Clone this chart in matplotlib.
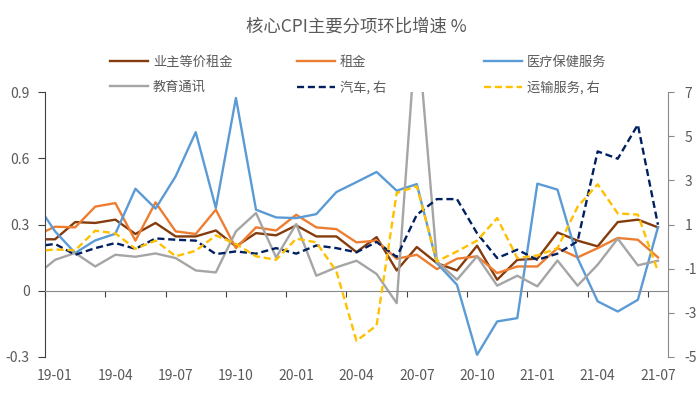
import matplotlib
matplotlib.use('Agg')
import matplotlib.pyplot as plt
import pandas as pd

plt.rcParams['font.family'] = ['Noto Sans CJK SC', 'DejaVu Sans']

# monthly data, 2018-12 .. 2021-07 (the first month is clipped by the axis)
months = pd.period_range('2018-12', '2021-07', freq='M').strftime('%y-%m').tolist()

oer = [0.233, 0.233, 0.311, 0.307, 0.322, 0.257, 0.307, 0.246, 0.246, 0.273, 0.201,
       0.261, 0.251, 0.296, 0.246, 0.246, 0.175, 0.243, 0.092, 0.198, 0.125, 0.092,
       0.204, 0.050, 0.140, 0.145, 0.264, 0.227, 0.201, 0.311, 0.322, 0.287]
rent = [0.248, 0.290, 0.287, 0.381, 0.397, 0.227, 0.400, 0.269, 0.257, 0.367, 0.193,
        0.287, 0.273, 0.344, 0.287, 0.279, 0.219, 0.227, 0.145, 0.163, 0.098, 0.145,
        0.156, 0.080, 0.110, 0.110, 0.193, 0.151, 0.193, 0.239, 0.231, 0.151]
medical = [0.405, 0.269, 0.171, 0.228, 0.258, 0.462, 0.372, 0.518, 0.718, 0.375, 0.873,
           0.367, 0.332, 0.329, 0.347, 0.447, 0.492, 0.538, 0.453, 0.483, 0.125, 0.027,
           -0.290, -0.139, -0.124, 0.485, 0.458, 0.148, -0.048, -0.094, -0.041, 0.287]
education = [0.066, 0.140, 0.171, 0.110, 0.163, 0.154, 0.169, 0.148, 0.092, 0.083, 0.269,
             0.352, 0.151, 0.302, 0.068, 0.106, 0.136, 0.076, -0.056, 1.22, 0.133, 0.050,
             0.156, 0.023, 0.068, 0.020, 0.137, 0.023, 0.118, 0.236, 0.115, 0.136]
# right axis
cars = [0.0, 0.12, -0.37, -0.07, 0.16, -0.10, 0.37, 0.31, 0.27, -0.34, -0.22,
        -0.32, -0.07, -0.32, 0.05, -0.07, -0.26, 0.21, -0.47, 1.44, 2.15, 2.15,
        0.60, -0.52, -0.14, -0.60, -0.32, 0.24, 4.31, 3.98, 5.52, 0.99]
transport = [-0.22, -0.13, -0.17, 0.72, 0.60, -0.10, 0.27, -0.44, -0.19, 0.51, 0.12,
             -0.44, -0.60, 0.36, 0.19, -1.12, -4.27, -3.57, 2.43, 2.73, -0.67, -0.22,
             0.27, 1.29, -0.52, -0.40, -0.07, 1.80, 2.82, 1.50, 1.45, -1.12]

tick_labels = ['19-01', '19-04', '19-07', '19-10', '20-01', '20-04',
               '20-07', '20-10', '21-01', '21-04', '21-07']
left_ticks = [0.9, 0.6, 0.3, 0, -0.3]
left_labels = ['0.9', '0.6', '0.3', '0', '-0.3']
right_ticks = [7, 5, 3, 1, -1, -3, -5]
right_labels = ['7', '5', '3', '1', '-1', '-3', '-5']

x = list(range(len(months)))
label_pos = [months.index(t) for t in tick_labels]
tick_pos = [p - 0.5 for p in label_pos]

text_c = '#595959'
fig = plt.figure(figsize=(6.98, 3.98), dpi=100)
ax = fig.add_axes([45 / 698, 1 - 357 / 398, 623 / 698, 265 / 398])
ax2 = ax.twinx()

lw = 1.7
l1, = ax.plot(x, oer, color='#843C0C', lw=lw, label='业主等价租金')
l2, = ax.plot(x, rent, color='#ED7D31', lw=lw, label='租金')
l3, = ax.plot(x, medical, color='#5B9BD5', lw=lw, label='医疗保健服务')
l4, = ax.plot(x, education, color='#A5A5A5', lw=lw, label='教育通讯')
l5, = ax2.plot(x, cars, color='#002060', lw=lw, ls=(0, (3, 1.6)), label='汽车, 右')
l6, = ax2.plot(x, transport, color='#FFC000', lw=lw, ls=(0, (3, 1.6)), label='运输服务, 右')

ax.set_xlim(0.5, 31.5)
ax.set_ylim(-0.3, 0.9)
ax2.set_ylim(-5, 7)

# x axis line sits on zero, labels at the bottom
ax.spines['bottom'].set_position(('data', 0))
ax.spines['bottom'].set_color('#898989')
ax.set_xticks(tick_pos)
ax.set_xticklabels([])
ax.tick_params(axis='x', length=4, color='#404040', direction='out')
secax = ax.secondary_xaxis('bottom')
secax.set_xticks(label_pos, tick_labels)
secax.tick_params(length=0, pad=9, labelsize=10, labelcolor=text_c)
secax.spines['bottom'].set_visible(False)

ax.set_yticks(left_ticks, left_labels)
ax.tick_params(axis='y', length=5, color='#404040', labelsize=10, labelcolor=text_c, pad=6)
ax.spines['left'].set_color('#404040')
for s in ['top', 'right']:
    ax.spines[s].set_visible(False)

ax2.set_yticks(right_ticks, right_labels)
ax2.tick_params(axis='y', length=4, color='#898989', labelsize=10, labelcolor=text_c, pad=8)
ax2.spines['right'].set_color('#898989')
for s in ['top', 'left', 'bottom']:
    ax2.spines[s].set_visible(False)

fig.text(356 / 698, 1 - 27 / 398, '核心CPI主要分项环比增速 %', ha='center', va='center',
         fontsize=12.5, color=text_c)

legend_kw = dict(frameon=False, fontsize=9.5, handlelength=2.9, handletextpad=0.35,
                 borderpad=0, borderaxespad=0, labelspacing=0.9, labelcolor=text_c,
                 loc='center left')
for handles, xl in [([l1, l4], 110), ([l2, l5], 297), ([l3, l6], 484)]:
    fig.legend(handles=handles, bbox_to_anchor=(xl / 698, 1 - 75 / 398), **legend_kw)

fig.savefig('out.png', dpi=100)
